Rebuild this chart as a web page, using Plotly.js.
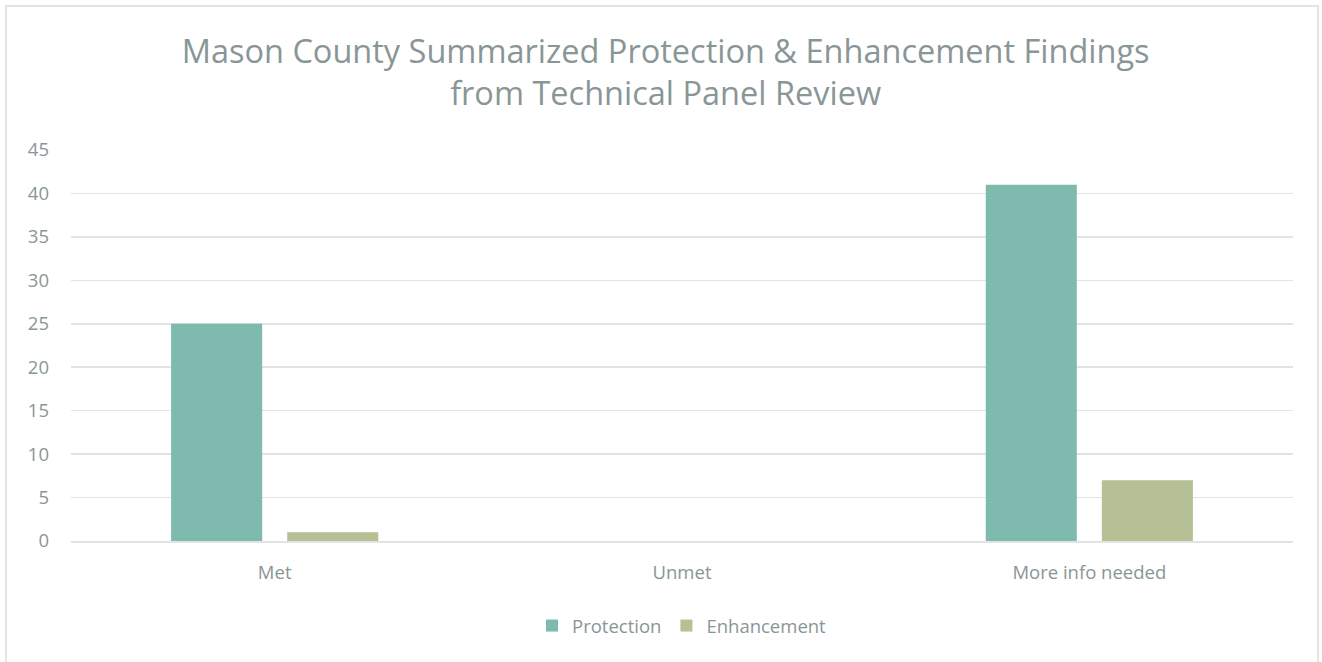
<!DOCTYPE html>
<html>
<head>
<meta charset="utf-8">
<script src="https://cdn.plot.ly/plotly-3.0.1.min.js"></script>
<style>
  html, body { margin: 0; padding: 0; background: #ffffff; }
  #wrap { position: absolute; left: 0; top: 0; width: 1322px; height: 662px; }
  #frame { position: absolute; left: 5px; top: 5px; width: 1314px; height: 670px; border: 2px solid #e3e3e3; box-sizing: border-box; pointer-events: none; }
  #chart { position: absolute; left: 0; top: 0; width: 1322px; height: 662px; }
</style>
</head>
<body>
<div id="wrap">
  <div id="chart"></div>
  <div id="frame"></div>
</div>
<script>
const categories = ["Met", "Unmet", "More info needed"];
const protectionValues = [25, 0, 41];
const enhancementValues = [1, 0, 7];
const seriesNames = ["Protection", "Enhancement"];
const yTickValues = [0, 5, 10, 15, 20, 25, 30, 35, 40, 45];

const fontFamily = "'Open Sans', 'Noto Sans', sans-serif";
const textGray = "#899696";

const traces = [
  {
    type: "bar",
    name: seriesNames[0],
    x: categories,
    y: protectionValues,
    marker: { color: "#7fbaaf" },
    hoverinfo: "x+y+name"
  },
  {
    type: "bar",
    name: seriesNames[1],
    x: categories,
    y: enhancementValues,
    marker: { color: "#b6c095" },
    hoverinfo: "x+y+name"
  }
];

const layout = {
  width: 1322,
  height: 662,
  paper_bgcolor: "rgba(0,0,0,0)",
  plot_bgcolor: "#ffffff",
  margin: { l: 71, r: 29, t: 150, b: 121 },
  barmode: "group",
  bargap: 0.43,
  bargroupgap: 0.2155,
  font: { family: fontFamily, color: textGray, size: 18 },
  title: {
    text: "Mason County Summarized Protection & Enhancement Findings<br>from Technical Panel Review",
    font: { family: fontFamily, size: 32.5, color: textGray },
    x: 0.5035,
    xanchor: "center",
    xref: "container",
    yref: "container",
    y: 1 - 63 / 662,
    yanchor: "middle"
  },
  xaxis: {
    type: "category",
    showgrid: false,
    zeroline: false,
    showline: true,
    linecolor: "#e3e3e3",
    linewidth: 1.5,
    ticks: "",
    ticklabelstandoff: 14,
    tickfont: { family: fontFamily, size: 18.5, color: textGray }
  },
  yaxis: {
    range: [0, 45],
    tickvals: yTickValues,
    showgrid: true,
    gridcolor: "#e3e3e3",
    gridwidth: 1.5,
    zeroline: false,
    showline: false,
    ticks: "",
    ticklabelstandoff: 21,
    tickfont: { family: fontFamily, size: 18.5, color: textGray }
  },
  showlegend: true,
  legend: {
    orientation: "h",
    x: 0.5,
    xanchor: "center",
    xref: "paper",
    yref: "container",
    y: 1 - 626 / 662,
    yanchor: "middle",
    font: { family: fontFamily, size: 18.5, color: textGray },
    itemwidth: 30,
    traceorder: "normal"
  }
};

Plotly.newPlot("chart", traces, layout, { displayModeBar: false, staticPlot: true });
</script>
</body>
</html>
